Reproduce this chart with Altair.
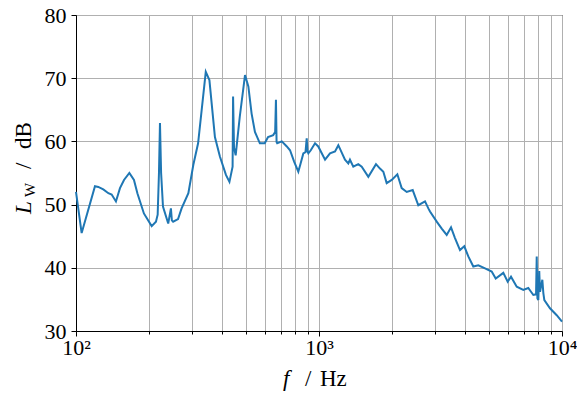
import altair as alt
import pandas as pd

freq = [100, 105.5, 119.7, 123.5, 129.5, 135.9, 140.2, 146, 151.7, 157.6, 165.8, 173.2, 178.9,
        190.3, 204.8, 213.3, 216.8, 219.5, 221.6, 224, 228, 239.6, 245.8, 248, 251, 263, 272,
        290, 304, 318, 342, 354, 373, 391, 414, 428, 441, 443, 447, 454, 472, 496, 512, 528,
        545, 571, 598, 617, 648, 660, 665, 669, 673, 703, 737,
        760, 790, 822, 840, 862, 880, 890, 897, 904, 925, 963, 993, 1059, 1110, 1164, 1201,
        1279, 1320, 1341, 1384, 1451, 1499, 1596, 1716, 1782, 1840, 1899, 1992, 2101, 2189,
        2296, 2430, 2563, 2731, 2818, 2863, 3051, 3199, 3354, 3494, 3628, 3804, 3962, 4116,
        4315, 4525, 4822, 5137, 5336, 5734, 5977, 6168, 6512, 6932, 7265, 7621, 7820, 7870,
        7920, 7990, 8060, 8120, 8300, 8380, 8459, 8925, 9511, 10000]
level = [52.0, 45.5, 52.9, 52.8, 52.4, 51.8, 51.6, 50.5, 52.6, 53.9, 55.0, 53.9, 51.8,
         48.6, 46.6, 47.3, 48.4, 55.0, 62.9, 55.0, 49.7, 47.0, 49.4, 47.5, 47.3, 47.7, 49.4,
         51.8, 56.3, 59.7, 71.0, 69.7, 60.7, 57.6, 54.7, 53.6, 56.0, 67.1, 59.0, 57.8, 63.9, 70.5, 68.7, 64.4,
         61.5, 59.7, 59.7, 60.7, 61.0, 61.5, 66.6, 59.9, 59.7, 60.0, 59.2,
         58.6, 56.8, 55.2, 56.5, 58.1, 58.3, 60.5, 58.4, 58.1, 58.6, 59.7, 59.2, 57.1, 58.1, 58.4, 59.4,
         57.1, 56.5, 57.1, 56.0, 56.4, 56.0, 54.4, 56.4, 55.7, 55.2, 53.4, 53.9, 54.8, 52.6,
         52.0, 52.3, 49.9, 50.5, 49.4, 48.9, 47.3, 46.2, 45.2, 46.4, 44.7, 42.8, 43.4, 41.8,
         40.2, 40.4, 39.9, 39.4, 38.3, 39.2, 37.8, 38.6, 37.0, 36.5, 36.8, 35.7, 35.8, 41.8,
         35.2, 34.9, 39.5, 36.2, 38.1, 36.0, 34.9, 33.6, 32.5, 31.5]

x_ticks = [k * 10 ** e for e in (2, 3) for k in range(1, 10)] + [10000]
y_ticks = [30, 40, 50, 60, 70, 80]

FONT = "Liberation Serif"
df = pd.DataFrame({"f": freq, "L": level})
one = pd.DataFrame({"a": [0]})

x_scale = alt.Scale(type="log", domain=[100, 10000], nice=False)
y_scale = alt.Scale(domain=[30, 80], nice=False, zero=False)

is_major = "datum.value == 100 || datum.value == 1000 || datum.value == 10000"

line = alt.Chart(df).mark_line(color="#1f77b4", strokeWidth=2).encode(
    x=alt.X("f:Q", scale=x_scale,
            axis=alt.Axis(values=x_ticks, grid=True, title=None,
                          tickSize={"condition": {"test": is_major, "value": 5}, "value": 3},
                          labelFontSize=22, labelFont=FONT, labelBaseline="alphabetic",
                          labelPadding=18, labelOverlap=False, labelFlush=False,
                          labelExpr="datum.value == 100 ? '10²' : datum.value == 1000 ? '10³' : datum.value == 10000 ? '10⁴' : ''")),
    y=alt.Y("L:Q", scale=y_scale,
            axis=alt.Axis(values=y_ticks, tickSize=5, grid=True, title=None, labelPadding=5,
                          labelFontSize=22, labelFont=FONT)),
)


def txt(s, x, y, size=23, style="normal", angle=0):
    return alt.Chart(one).mark_text(text=s, font=FONT, fontSize=size, fontStyle=style, angle=angle,
                                    align="left", baseline="alphabetic", color="black").encode(
        x=alt.value(x), y=alt.value(y))


titles = [
    txt("f", 207, 371, style="italic"),
    txt("/", 229, 371),
    txt("Hz", 244, 371),
    txt("L", -45, 199, style="italic", angle=270),
    txt("W", -41, 182, size=15, angle=270),
    txt("/", -45, 154, angle=270),
    txt("dB", -45, 134, angle=270),
]

chart = alt.layer(line, *titles).properties(
    width=486, height=316,
    padding={"left": 76, "top": 15, "right": 15, "bottom": 63},
    autosize="none",
).configure_view(stroke="black", strokeWidth=1).configure_axis(
    domainColor="black", tickColor="black", gridColor="#b0b0b0", gridWidth=1,
    labelColor="black", domainWidth=1, tickWidth=1,
)

chart.save("out.html", embed_options={"renderer": "svg", "actions": False})
